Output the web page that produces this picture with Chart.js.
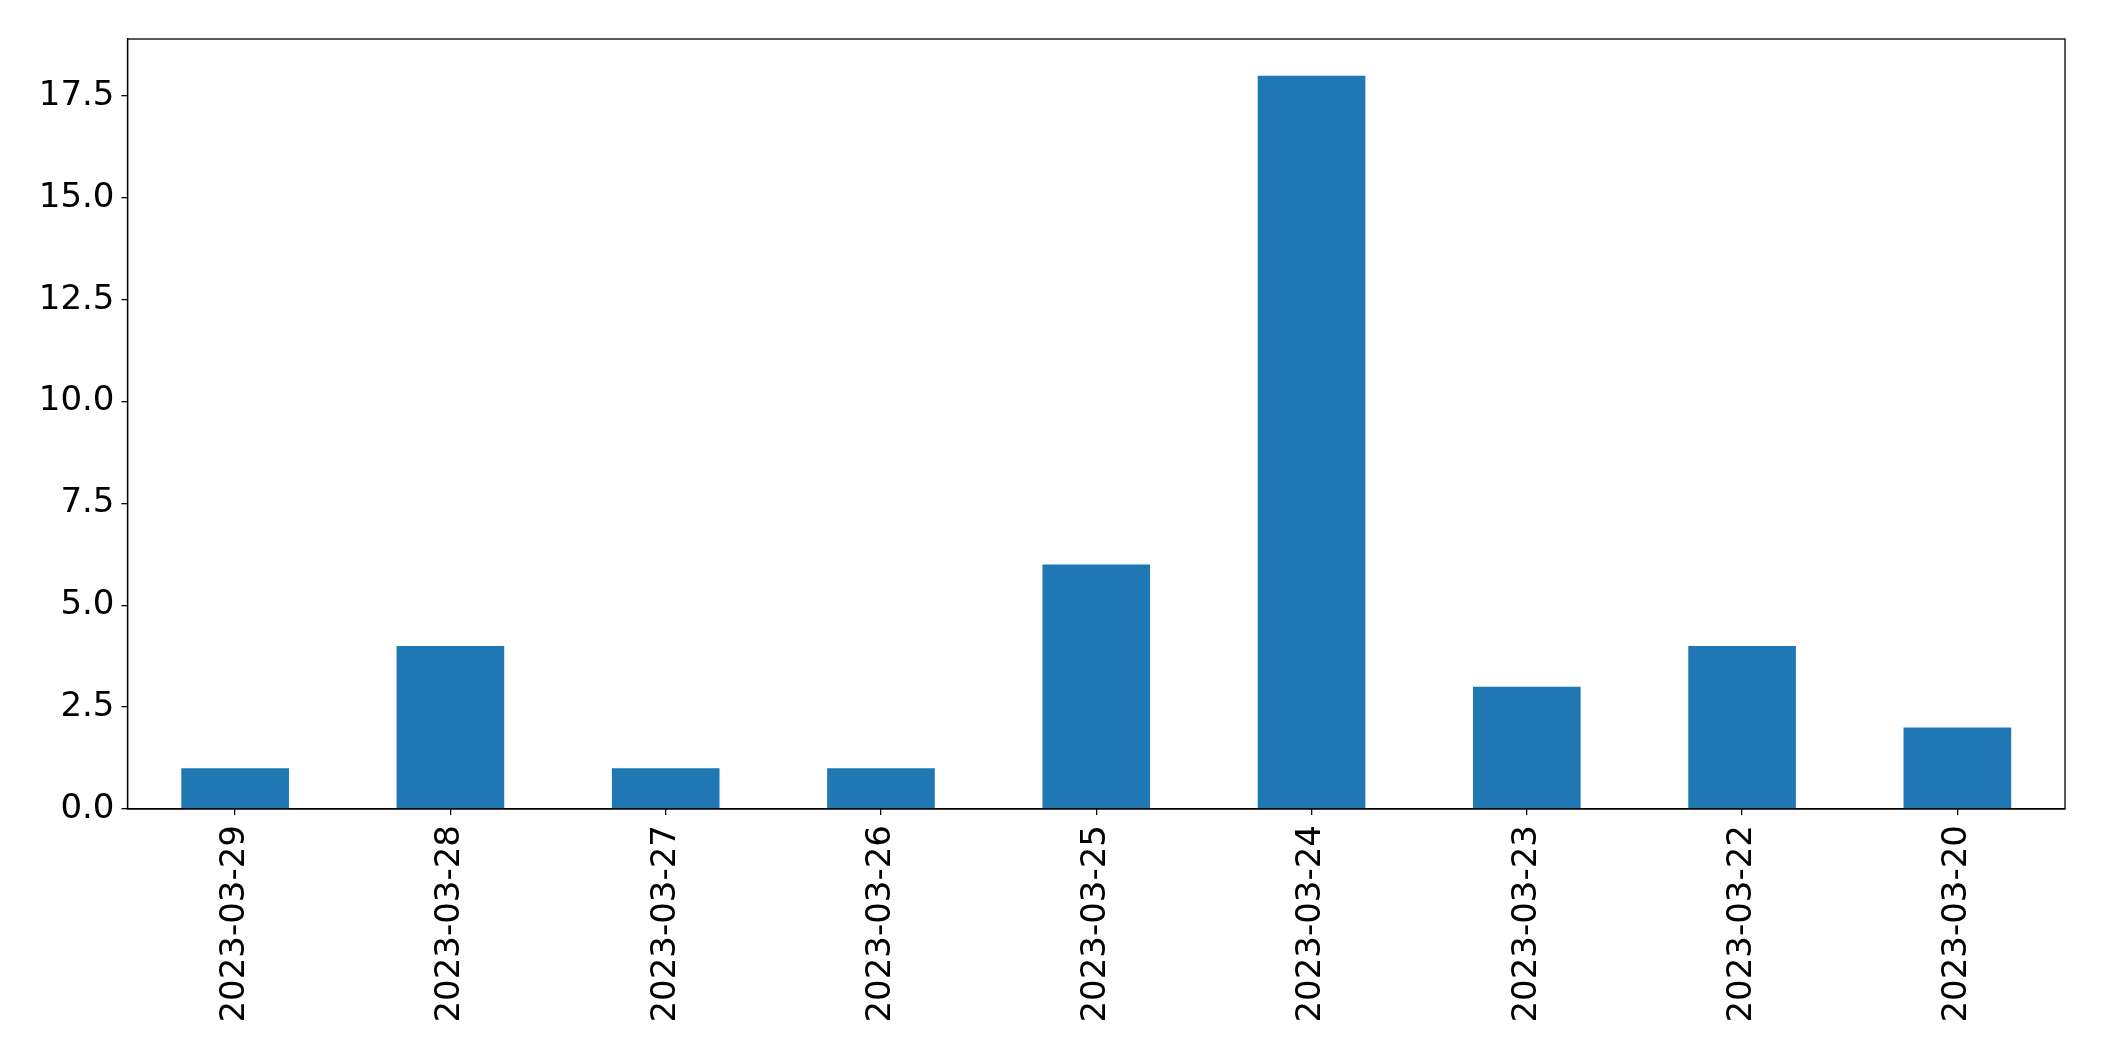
<!DOCTYPE html>
<html>
<head>
<meta charset="utf-8">
<script src="https://cdn.jsdelivr.net/npm/chart.js@4/dist/chart.umd.min.js"></script>
<style>
html,body{margin:0;padding:0;background:#fff;}
#wrap{width:2104px;height:1061px;position:relative;}
</style>
</head>
<body>
<div id="wrap"><canvas id="c" width="2104" height="1061"></canvas></div>
<script>
const categories = ["2023-03-29","2023-03-28","2023-03-27","2023-03-26","2023-03-25","2023-03-24","2023-03-23","2023-03-22","2023-03-20"];
const counts = [1, 4, 1, 1, 6, 18, 3, 4, 2];
const yTicks = [0, 2.5, 5, 7.5, 10, 12.5, 15, 17.5];

const FONT = "'DejaVu Sans', sans-serif";

const frame = {
  id: 'frame',
  afterDatasetsDraw(chart) {
    const a = chart.chartArea, ctx = chart.ctx;
    ctx.save();
    ctx.strokeStyle = '#000';
    ctx.lineWidth = 1.3;
    ctx.strokeRect(a.left, a.top, a.right - a.left, a.bottom - a.top);
    ctx.restore();
  }
};

new Chart(document.getElementById('c'), {
  type: 'bar',
  data: {
    labels: categories,
    datasets: [{
      data: counts,
      backgroundColor: '#1f77b4',
      borderWidth: 0,
      categoryPercentage: 1.0,
      barPercentage: 0.5
    }]
  },
  plugins: [frame],
  options: {
    responsive: false,
    animation: false,
    devicePixelRatio: 1,
    layout: { padding: { top: 39, right: 39, left: 0, bottom: 0 } },
    plugins: { legend: { display: false }, tooltip: { enabled: false } },
    scales: {
      x: {
        offset: true,
        grid: { display: true, offset: false, drawOnChartArea: false, drawTicks: true, tickLength: 6, color: '#000', lineWidth: 1.3 },
        border: { display: true, color: '#000', width: 1.3 },
        ticks: { color: '#000', font: { family: FONT, size: 34 }, minRotation: 90, maxRotation: 90, padding: 10, autoSkip: false },
        afterFit(s) { s.height = 252; }
      },
      y: {
        min: 0,
        max: 18.9,
        grid: { display: true, drawOnChartArea: false, drawTicks: true, tickLength: 6, color: '#000', lineWidth: 1.3 },
        border: { display: true, color: '#000', width: 1.3 },
        ticks: {
          color: '#000', font: { family: FONT, size: 34 }, padding: 7,
          callback: (v) => Number(v).toFixed(1)
        },
        afterBuildTicks(s) { s.ticks = yTicks.map(v => ({ value: v })); },
        afterFit(s) { s.width = 127.5; }
      }
    }
  }
});
</script>
</body>
</html>
